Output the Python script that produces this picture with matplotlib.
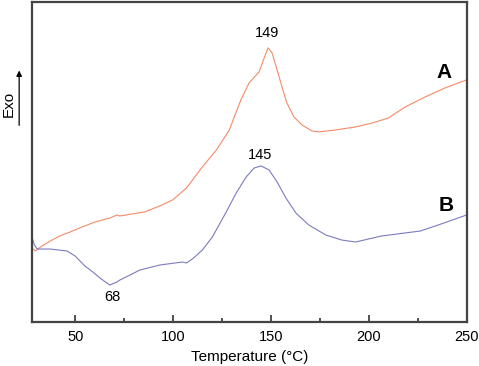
"""DSC thermograms of samples A and B."""

import matplotlib.pyplot as plt
from matplotlib.patches import FancyArrowPatch

plt.rcParams["font.family"] = ["Liberation Sans", "DejaVu Sans"]

# temperature (°C) and heat flow (arbitrary units)
temp_a = [28.1, 29.6, 33.0, 37.3, 42.0, 47.4, 53.5, 60.1, 67.8, 71.3, 72.8,
          79.0, 85.5, 93.2, 99.8, 106.9, 115.0, 122.2, 128.8, 132.3, 134.9,
          138.9, 144.0, 146.6, 148.6, 150.6, 153.2, 155.7, 158.2, 161.8,
          165.9, 171.0, 174.5, 183.2, 193.3, 202.0, 210.1, 214.0, 218.7,
          228.9, 239.1, 250.0]
flow_a = [74, 71, 76, 81, 86, 90, 95, 100, 104, 107, 106,
          108, 110, 116, 122, 134, 155, 172, 192, 210, 223,
          239, 250, 264, 274, 269, 252, 235, 219, 205,
          197, 191, 190, 192, 195, 199, 204, 209, 215,
          225, 234, 242]

temp_b = [28.1, 29.2, 30.6, 37.3, 45.9, 50.0, 55.0, 59.1, 62.7, 67.7, 71.3,
          72.8, 78.0, 83.0, 93.2, 100.8, 104.9, 106.9, 110.5, 115.0, 120.1,
          127.2, 132.3, 137.4, 141.5, 145.0, 149.1, 153.2, 157.7, 162.8,
          169.4, 178.1, 186.2, 193.3, 206.5, 226.4, 235.5, 250.0]
flow_b = [84, 77, 73, 73, 71, 66, 56, 50, 44, 37, 40,
          42, 47, 52, 57, 59, 60, 59, 64, 72, 85,
          110, 129, 145, 154, 156, 152, 140, 124, 109,
          97, 87, 82, 80, 86, 91, 97, 107]

peak_labels = [("149", 148.3, 289), ("145", 144.3, 167), ("68", 68.8, 25)]
curve_labels = [("A", 238.5, 249), ("B", 239.5, 116)]

fig = plt.figure(figsize=(4.79, 3.66), dpi=100)
ax = fig.add_axes([0.067, 0.12, 0.907, 0.875])

ax.plot(temp_a, flow_a, color="#f58a68", lw=0.8)
ax.plot(temp_b, flow_b, color="#7b7bc0", lw=0.8)

for text, x, y in peak_labels:
    ax.text(x, y, text, ha="center", va="center", fontsize=10.5)
for text, x, y in curve_labels:
    ax.text(x, y, text, ha="center", va="center", fontsize=15, fontweight="bold")

ax.set_xlim(28, 250)
ax.set_ylim(0, 320)
ax.set_xticks([50, 100, 150, 200, 250])
ax.set_xticks([75, 125, 175, 225], minor=True)
ax.set_yticks([])
ax.tick_params(axis="x", which="major", direction="in", length=5, width=1.2,
               labelsize=10.5, colors="#333333", labelcolor="black", pad=6)
ax.tick_params(axis="x", which="minor", direction="in", length=3, width=1.2,
               colors="#333333")
for spine in ax.spines.values():
    spine.set_linewidth(1.6)
    spine.set_color("#444444")

ax.set_xlabel("Temperature (°C)", fontsize=11, labelpad=4)

# "Exo" label with upward arrow on the left margin
fig.text(0.018, 0.715, "Exo", rotation=90, ha="center", va="center", fontsize=11)
fig.add_artist(FancyArrowPatch(
    (0.040, 0.65), (0.040, 0.815), transform=fig.transFigure,
    arrowstyle="-|>", mutation_scale=8, lw=0.9, color="black"))

fig.savefig("out.png", dpi=100)
plt.close(fig)
